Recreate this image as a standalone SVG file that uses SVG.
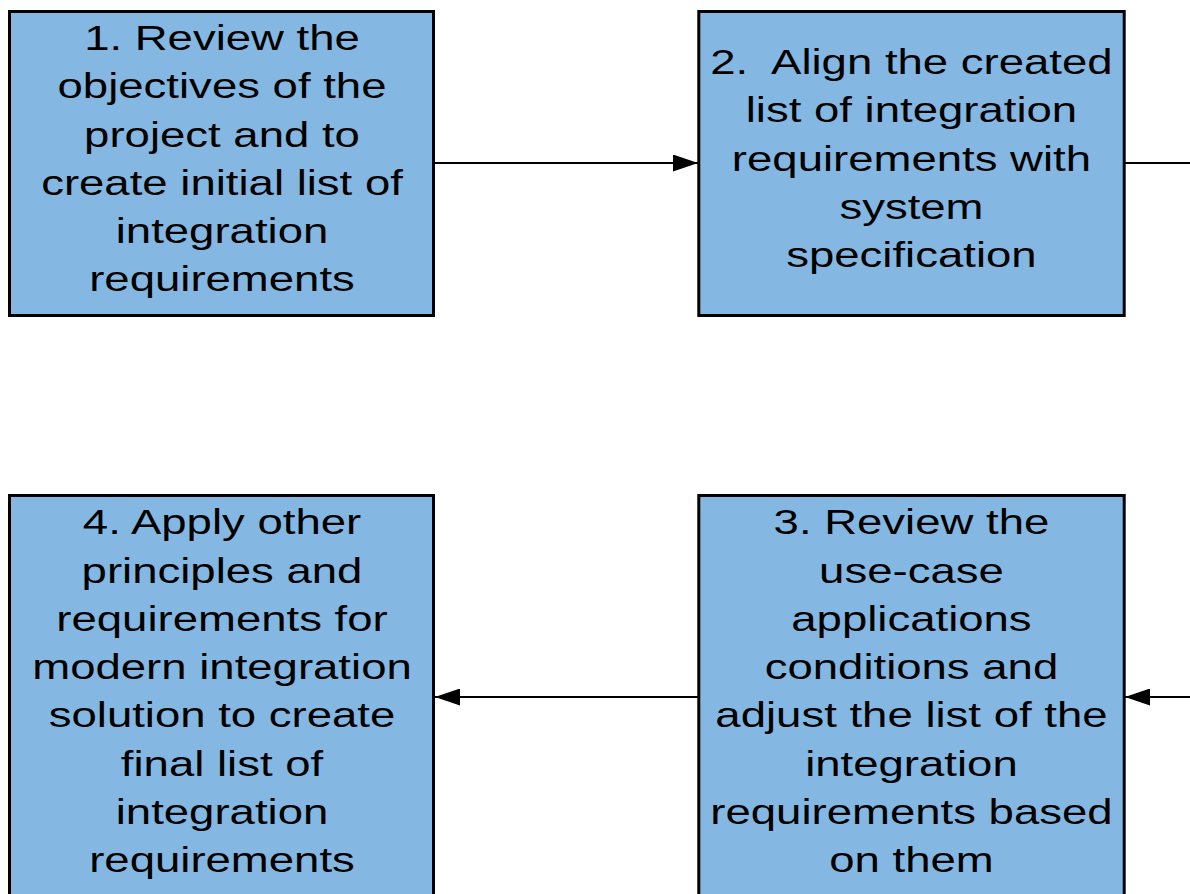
<svg xmlns="http://www.w3.org/2000/svg" width="1190" height="894" viewBox="0 0 1190 894">
<style>
.box{fill:#84b8e2;stroke:#000;stroke-width:3}
.t{font-family:"Liberation Sans",Arial,sans-serif;font-size:34.5px;fill:#000;text-anchor:middle}
.c{stroke:#000;stroke-width:2;fill:none}
</style>
<defs>
<marker id="ah" markerWidth="25" markerHeight="17" refX="25" refY="8.5" orient="auto" markerUnits="userSpaceOnUse">
<path d="M0,0 L25,8.5 L0,17 Z" fill="#000"/>
</marker>
</defs>
<rect width="1190" height="894" fill="#fff"/>
<g id="connectors">
<line class="c" x1="435" y1="163" x2="698" y2="163" marker-end="url(#ah)"/>
<line class="c" x1="1125" y1="163" x2="1192" y2="163"/>
<line class="c" x1="1192" y1="697" x2="1125" y2="697" marker-end="url(#ah)"/>
<line class="c" x1="698" y1="697" x2="435" y2="697" marker-end="url(#ah)"/>
</g>
<g id="node1">
<rect class="box" x="9.5" y="11.5" width="424" height="304"/>
<g transform="scale(1.32,1)">
<text class="t" x="168.2" y="50">1. Review the</text>
<text class="t" x="168.2" y="98.3">objectives of the</text>
<text class="t" x="168.2" y="146.6">project and to</text>
<text class="t" x="168.2" y="194.9">create initial list of</text>
<text class="t" x="168.2" y="243.2">integration</text>
<text class="t" x="168.2" y="291.5">requirements</text>
</g>
</g>
<g id="node2">
<rect class="box" x="698.8" y="11.5" width="425.4" height="304"/>
<g transform="scale(1.32,1)">
<text class="t" x="690.5" y="74" xml:space="preserve">2.  Align the created</text>
<text class="t" x="690.5" y="122.3">list of integration</text>
<text class="t" x="690.5" y="170.6">requirements with</text>
<text class="t" x="690.5" y="218.9">system</text>
<text class="t" x="690.5" y="267.2">specification</text>
</g>
</g>
<g id="node3">
<rect class="box" x="698.8" y="495.5" width="425.4" height="440"/>
<g transform="scale(1.32,1)">
<text class="t" x="690.5" y="534.3">3. Review the</text>
<text class="t" x="690.5" y="582.6">use-case</text>
<text class="t" x="690.5" y="630.9">applications</text>
<text class="t" x="690.5" y="679.2">conditions and</text>
<text class="t" x="690.5" y="727.5">adjust the list of the</text>
<text class="t" x="690.5" y="775.8">integration</text>
<text class="t" x="690.5" y="824.1">requirements based</text>
<text class="t" x="690.5" y="872.4">on them</text>
</g>
</g>
<g id="node4">
<rect class="box" x="9.5" y="495.5" width="424" height="440"/>
<g transform="scale(1.32,1)">
<text class="t" x="168.2" y="534.3">4. Apply other</text>
<text class="t" x="168.2" y="582.6">principles and</text>
<text class="t" x="168.2" y="630.9">requirements for</text>
<text class="t" x="168.2" y="679.2">modern integration</text>
<text class="t" x="168.2" y="727.5">solution to create</text>
<text class="t" x="168.2" y="775.8">final list of</text>
<text class="t" x="168.2" y="824.1">integration</text>
<text class="t" x="168.2" y="872.4">requirements</text>
</g>
</g>
</svg>
